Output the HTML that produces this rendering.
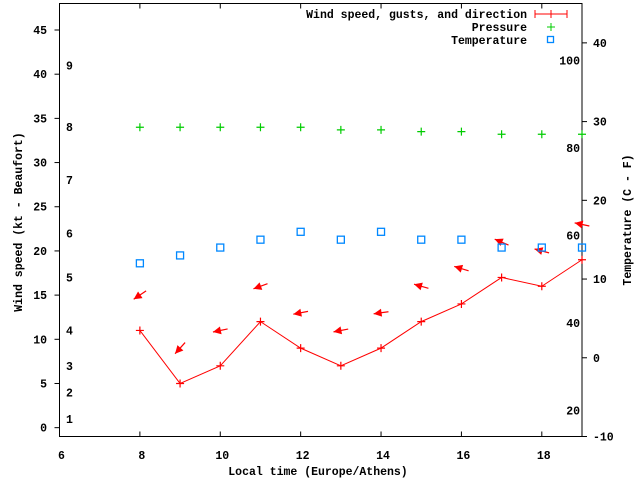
<!DOCTYPE html>
<html><head><meta charset="utf-8"><style>
html,body{margin:0;padding:0;background:#fff}
svg{display:block}
text{font-family:"Liberation Mono","DejaVu Sans Mono",monospace;font-weight:bold;font-size:11.5px;fill:#000}
</style></head><body>
<svg id="chart" width="640" height="480" viewBox="0 0 640 480" xmlns="http://www.w3.org/2000/svg">
<g id="grid"></g>
<rect x="59.5" y="3.5" width="522.5" height="433" fill="none" stroke="#000" stroke-width="1"/>
<g id="marks"></g>
<g id="axes"></g>
<text transform="translate(22,222) rotate(-90)" text-anchor="middle">Wind speed (kt - Beaufort)</text>
<text transform="translate(631,220) rotate(-90)" text-anchor="middle">Temperature (C - F)</text>
<text x="318" y="475" text-anchor="middle">Local time (Europe/Athens)</text>
<g>
<text x="527" y="18" text-anchor="end">Wind speed, gusts, and direction</text>
<g stroke="#f00" stroke-width="1">
<line x1="535" y1="14" x2="567" y2="14"/><line x1="535" y1="10" x2="535" y2="18"/><line x1="567" y1="10" x2="567" y2="18"/><line x1="551" y1="10" x2="551" y2="18"/></g>
<text x="527" y="31" text-anchor="end">Pressure</text>
<g stroke="#0c0" stroke-width="1"><line x1="547" y1="27" x2="555" y2="27"/><line x1="551" y1="23" x2="551" y2="31"/></g>
<text x="527" y="44" text-anchor="end">Temperature</text>
<rect x="547.5" y="36.5" width="6" height="6" fill="none" stroke="#08f" stroke-width="1.3"/>
</g>
</svg>
<script>
const hours = [8,9,10,11,12,13,14,15,16,17,18,19];
const windSpeed = [11,5,7,12,9,7,9,12,14,17,16,19];
const windGust = [15,9,11,16,13,11,13,16,18,21,20,23];
const windDir = [56,42,78,70,79,79,82,106,107,113,105,102];
const pressure = [34,34,34,34,34,33.7,33.7,33.5,33.5,33.2,33.2,33.2];
const temperature = [12,13,14,15,16,15,16,15,15,14,14,14];
const xTicks = [6,8,10,12,14,16,18];
const yTicks = [0,5,10,15,20,25,30,35,40,45];
const y2Ticks = [-10,0,10,20,30,40];
const fTicks = [20,40,60,80,100];
const beaufortLabels = ['1','2','3','4','5','6','7','8','9'];
const beaufortKt = [1,4,7,11,17,22,28,34,41];

const L=59.5,R=582,T=3.5,B=436.5;
const X=v=>L+(v-6)/(19-6)*(R-L);
const Y=v=>B-(v+1)/49*(B-T);
const Y2=v=>B-(v+10)/55*(B-T);
const NS='http://www.w3.org/2000/svg';
const marks=document.getElementById('marks'), axes=document.getElementById('axes');
function mk(tag,attrs,parent){const e=document.createElementNS(NS,tag);for(const k in attrs)e.setAttribute(k,attrs[k]);parent.appendChild(e);return e;}

xTicks.forEach(t=>{
  const x=X(t);
  const g=mk('g',{},axes);
  
  
  mk('line',{x1:x,y1:T,x2:x,y2:T+5,stroke:'#000'},g);
  mk('line',{x1:x,y1:B,x2:x,y2:B-5,stroke:'#000'},g);
  const tx=mk('text',{x:x+2,y:459,'text-anchor':'middle'},g);tx.textContent=t;
});
yTicks.forEach(t=>{
  const y=Y(t);
  const g=mk('g',{},axes);
  
  
  mk('line',{x1:L-5,y1:y,x2:L,y2:y,stroke:'#000'},g);
  const tx=mk('text',{x:47,y:y+4,'text-anchor':'end'},g);tx.textContent=t;
});
y2Ticks.forEach(t=>{
  const y=Y2(t);
  const g=mk('g',{},axes);
  
  
  mk('line',{x1:R,y1:y,x2:R+5,y2:y,stroke:'#000'},g);
  const tx=mk('text',{x:593,y:y+4,'text-anchor':'start'},g);tx.textContent=t;
});
fTicks.forEach(f=>{
  const c=(f-32)*5/9;
  const tx=mk('text',{x:580,y:Y2(c)+4,'text-anchor':'end'},axes);
  
  
  tx.textContent=f;
});
beaufortLabels.forEach((b,i)=>{
  const tx=mk('text',{x:66,y:Y(beaufortKt[i])+4},axes);
  
  
  tx.textContent=b;
});

// wind line
const pl=mk('polyline',{points:hours.map((h,i)=>X(h)+','+Y(windSpeed[i])).join(' '),fill:'none',stroke:'#f00','stroke-width':1},marks);


hours.forEach((h,i)=>{
  const x=X(h),y=Y(windSpeed[i]);
  const p=mk('path',{d:`M${x-4},${y}H${x+4}M${x},${y-4}V${y+4}`,stroke:'#f00','stroke-width':1.2},marks);
  
  
});
// gust arrows
hours.forEach((h,i)=>{
  const cx=X(h),cy=Y(windGust[i]);
  const th=windDir[i]*Math.PI/180;
  const dx=-Math.sin(th),dy=Math.cos(th);
  const len=15;
  const hx=cx+dx*len/2,hy=cy+dy*len/2,tx=cx-dx*len/2,ty=cy-dy*len/2;
  const g=mk('g',{},marks);
  
  
  mk('line',{x1:tx,y1:ty,x2:hx,y2:hy,stroke:'#f00','stroke-width':1.2},g);
  const px=-dy,py=dx,hl=8,hw=4;
  const bx=hx-dx*hl,by=hy-dy*hl;
  mk('polygon',{points:`${hx},${hy} ${bx+px*hw},${by+py*hw} ${bx-px*hw},${by-py*hw}`,fill:'#f00'},g);
});
// pressure
hours.forEach((h,i)=>{
  const x=X(h),y=Y(pressure[i]);
  const p=mk('path',{d:`M${x-4},${y}H${x+4}M${x},${y-4}V${y+4}`,stroke:'#0c0','stroke-width':1.2},marks);
  
  
});
// temperature
hours.forEach((h,i)=>{
  const x=X(h),y=Y2(temperature[i]);
  const r=mk('rect',{x:x-3.5,y:y-3.5,width:7,height:7,fill:'none',stroke:'#08f','stroke-width':1.3},marks);
  
  
});
</script>
</body></html>
